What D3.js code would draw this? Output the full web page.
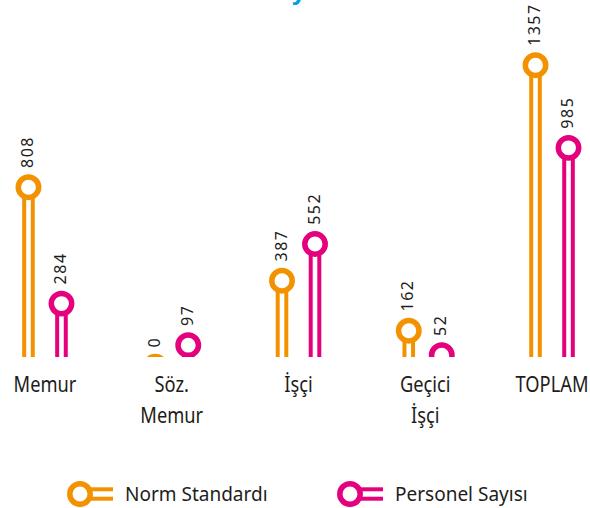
<!DOCTYPE html>
<html>
<head>
<meta charset="utf-8">
<script src="https://cdn.jsdelivr.net/npm/d3@7"></script>
<style>
  body { margin: 0; background: #fff; }
  svg { display: block; font-family: "Noto Sans", "Open Sans", sans-serif; }
</style>
</head>
<body>
<svg id="chart" width="590" height="508"></svg>
<script>
// data
const categories = ["Memur", "Söz. Memur", "İşçi", "Geçici İşçi", "TOPLAM"];
const categoryLines = [["Memur"], ["Söz.", "Memur"], ["İşçi"], ["Geçici", "İşçi"], ["TOPLAM"]];
const seriesNames = ["Norm Standardı", "Personel Sayısı"];
const normValues = [808, 0, 387, 162, 1357];
const personelValues = [284, 97, 552, 52, 985];
const seriesColors = ["#f39200", "#e5007d"];
const titleText = "Norm Standardı ve Personel Sayısı";

const svg = d3.select("#chart");
const baseY = 357;

const x = d3.scaleBand().domain(categories).range([-18.4, 615.4]);
const xs = d3.scaleBand().domain(seriesNames).range([-33, 33]);
const y = d3.scaleLinear().domain([0, 1357]).range([366.7, 65.2]);
const color = d3.scaleOrdinal().domain(seriesNames).range(seriesColors);

// title (mostly off the top edge, as in the source)
const title = svg.append("text")
  .attr("x", 0).attr("y", -1)
  .attr("font-size", 24).attr("font-weight", "bold")
  .attr("fill", "#009fe3")
  .text(titleText);
const yi = titleText.lastIndexOf("y");
const px = title.node().getStartPositionOfChar(yi).x;
title.attr("x", 292 - px);

svg.append("clipPath").attr("id", "plotclip")
  .append("rect").attr("x", 0).attr("y", 0).attr("width", 590).attr("height", baseY);

const rows = [];
categories.forEach((c, i) => {
  rows.push({ cat: c, series: seriesNames[0], value: normValues[i] });
  rows.push({ cat: c, series: seriesNames[1], value: personelValues[i] });
});
const cxOf = d => x(d.cat) + x.bandwidth() / 2 + xs(d.series) + xs.bandwidth() / 2;

const r = 10.2;
const plot = svg.append("g").attr("clip-path", "url(#plotclip)");
const pins = plot.selectAll("g.pin").data(rows).enter().append("g")
  .attr("class", "pin")
  .attr("transform", d => `translate(${cxOf(d)},0)`);

[-4.3, 4.3].forEach(off => {
  pins.append("line")
    .attr("x1", off).attr("x2", off)
    .attr("y1", d => y(d.value)).attr("y2", baseY + 5)
    .attr("stroke", d => color(d.series))
    .attr("stroke-width", 4);
});

pins.append("circle")
  .attr("cx", 0).attr("cy", d => y(d.value)).attr("r", r)
  .attr("fill", "#fff")
  .attr("stroke", d => color(d.series))
  .attr("stroke-width", 5.5);

// value labels
svg.selectAll("text.val").data(rows).enter().append("text")
  .attr("class", "val")
  .attr("transform", d => `translate(${cxOf(d) - 1.5},${y(d.value) - r - 9}) rotate(-90)`)
  .attr("dominant-baseline", "central")
  .attr("font-size", 16)
  .attr("letter-spacing", 1.5)
  .attr("fill", "#1d1d1b")
  .text(d => d.value);

// category labels
const cats = svg.selectAll("g.cat").data(categories).enter().append("g")
  .attr("class", "cat")
  .attr("transform", d => `translate(${x(d) + x.bandwidth() / 2},0) scale(0.87,1)`);
cats.selectAll("text").data((d, i) => categoryLines[i]).enter().append("text")
  .attr("x", 0)
  .attr("y", (d, i) => 392.5 + i * 30.5)
  .attr("text-anchor", "middle")
  .attr("font-size", 21)
  .attr("fill", "#1d1d1b")
  .text(d => d);

// legend
const legendX = d3.scaleOrdinal().domain(seriesNames).range([80, 350]);
const leg = svg.selectAll("g.leg").data(seriesNames).enter().append("g")
  .attr("class", "leg")
  .attr("transform", d => `translate(${legendX(d)},494)`);
[-4.7, 4.7].forEach(off => {
  leg.append("line")
    .attr("x1", 11).attr("x2", 33)
    .attr("y1", off).attr("y2", off)
    .attr("stroke", d => color(d))
    .attr("stroke-width", 4);
});
leg.append("circle")
  .attr("r", r).attr("fill", "#fff")
  .attr("stroke", d => color(d)).attr("stroke-width", 5.5);
leg.append("text")
  .attr("x", 45).attr("y", 7)
  .attr("font-size", 19)
  .attr("fill", "#1d1d1b")
  .text(d => d);
</script>
</body>
</html>
